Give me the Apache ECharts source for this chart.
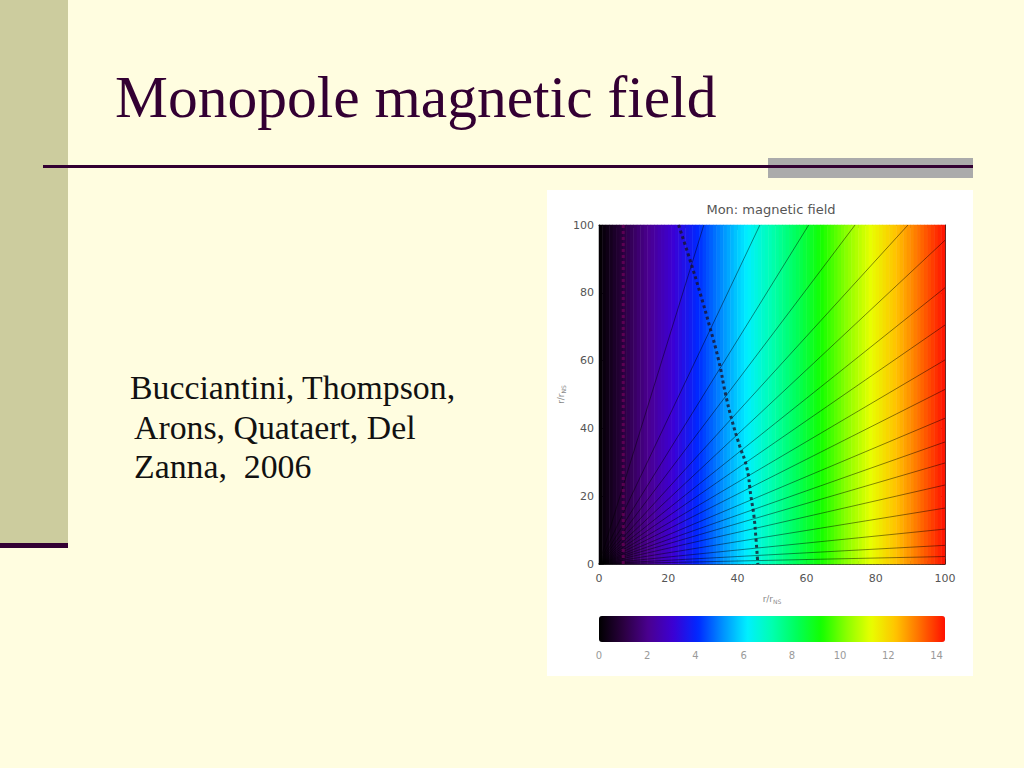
<!DOCTYPE html>
<html>
<head>
<meta charset="utf-8">
<title>Monopole magnetic field</title>
<script src="https://cdn.jsdelivr.net/npm/echarts@6/dist/echarts.min.js"></script>
<style>
  html, body { margin: 0; padding: 0; background: #FFFDE0; }
  #main { width: 1024px; height: 768px; }
</style>
</head>
<body>
<div id="main"></div>
<script>
// ---- data ----
const slideTitle = 'Monopole magnetic field';
const bodyLines = ['Bucciantini, Thompson,', 'Arons, Quataert, Del', 'Zanna,  2006'];
const chartTitle = 'Mon: magnetic field';

// field value per column (1 unit of r/r_NS wide, x = 0..100)
const colValues = [
  0.07, 0.22, 0.36, 0.50, 0.65, 0.79, 0.93, 1.08, 1.22, 1.36,
  1.51, 1.65, 1.79, 1.94, 2.08, 2.22, 2.37, 2.51, 2.65, 2.80,
  2.94, 3.09, 3.23, 3.37, 3.52, 3.66, 3.80, 3.95, 4.09, 4.23,
  4.38, 4.52, 4.66, 4.81, 4.95, 5.09, 5.24, 5.38, 5.52, 5.67,
  5.81, 5.95, 6.10, 6.24, 6.38, 6.53, 6.67, 6.82, 6.96, 7.10,
  7.25, 7.39, 7.53, 7.68, 7.82, 7.96, 8.11, 8.25, 8.39, 8.54,
  8.68, 8.82, 8.97, 9.11, 9.25, 9.40, 9.54, 9.68, 9.83, 9.97,
  10.12, 10.26, 10.40, 10.55, 10.69, 10.83, 10.98, 11.12, 11.26, 11.41,
  11.55, 11.69, 11.84, 11.98, 12.12, 12.27, 12.41, 12.55, 12.70, 12.84,
  12.98, 13.13, 13.27, 13.41, 13.56, 13.70, 13.85, 13.99, 14.13, 14.28
];
const colCategories = colValues.map((_, i) => String(i));
const rowCategories = ['all'];

// field lines: radial from the origin, ending on the plot border
const lineEndX = [30.3, 46.5, 60.6, 74, 89.3, 100, 100, 100, 100, 100, 100, 100, 100, 100, 100, 100, 100, 100];
const lineEndY = [100, 100, 100, 100, 100, 95.5, 81.5, 70.5, 60.2, 51.5, 43, 36, 29.8, 23.3, 16.5, 10.3, 5.5, 2.2];

// dotted surface curve
const surfX = [23, 26.2, 29.2, 32, 34.6, 36.6, 38.4, 40.6, 42.7, 43.9, 44.8, 45.4, 45.9];
const surfY = [100, 90, 80, 70, 60, 50, 42.5, 35, 28.5, 20, 14, 7, 0];

// dotted vertical line near the inner boundary
const innerX = [7, 7];
const innerY = [0, 100];

// axes
const axisMin = 0, axisMax = 100, axisStep = 20;
const colorbarMin = 0, colorbarMax = 14.35;
const colorbarTicks = [0, 2, 4, 6, 8, 10, 12, 14];
const rainbow = ['#000000', '#2b0040', '#4a0090', '#3c00d4', '#0028ff', '#0090ff', '#00f0ff',
                 '#00ffb0', '#00ff5a', '#14ff00', '#88ff00', '#e8ff00', '#ffc400', '#ff6c00', '#ff1000'];

// ---- chart ----
const chart = echarts.init(document.getElementById('main'), null, { renderer: 'svg' });

const serif = "'Liberation Serif', 'Times New Roman', serif";
const sans = "'DejaVu Sans', sans-serif";

const nameRich = {
  a: { fontSize: 9, color: '#8a8a8a', fontFamily: sans },
  s: { fontSize: 6, color: '#8a8a8a', fontFamily: sans, verticalAlign: 'bottom', padding: [4, 0, 0, 0] }
};

const plotGrid = { left: 599, top: 225, width: 346, height: 339 };

const fieldSeries = lineEndX.map((ex, i) => ({
  type: 'line',
  xAxisIndex: 1, yAxisIndex: 1,
  data: [[0, 0], [ex, lineEndY[i]]],
  symbol: 'none',
  silent: true,
  z: 4,
  lineStyle: { color: 'rgba(0,0,0,0.45)', width: 1 }
}));

const option = {
  backgroundColor: '#FFFDE0',
  animation: false,
  title: {
    text: chartTitle,
    left: 771, top: 203, padding: 0,
    textAlign: 'center',
    textStyle: { fontSize: 13, fontWeight: 'normal', color: '#555', fontFamily: sans }
  },
  graphic: [
    { type: 'rect', z: -5, shape: { x: 0, y: 0, width: 68, height: 543 }, style: { fill: '#CCCC9E' } },
    { type: 'rect', z: -5, shape: { x: 0, y: 543, width: 68, height: 5 }, style: { fill: '#330033' } },
    { type: 'rect', z: -5, shape: { x: 768, y: 158, width: 205, height: 20 }, style: { fill: '#ABABAB' } },
    { type: 'line', z: -4, shape: { x1: 43, y1: 166.5, x2: 973, y2: 166.5 }, style: { stroke: '#330033', lineWidth: 3 } },
    { type: 'rect', z: -5, shape: { x: 547, y: 190, width: 426, height: 486 }, style: { fill: '#FFFFFF' } },
    { type: 'text', z: -3, x: 115, y: 97, style: { text: slideTitle, font: '59.5px ' + serif, fill: '#330033', verticalAlign: 'middle' } },
    { type: 'text', z: -3, x: 130, y: 387, style: { text: bodyLines[0], font: '33.8px ' + serif, fill: '#111', verticalAlign: 'middle' } },
    { type: 'text', z: -3, x: 134, y: 427, style: { text: bodyLines[1], font: '33.8px ' + serif, fill: '#111', verticalAlign: 'middle' } },
    { type: 'text', z: -3, x: 134, y: 466, style: { text: bodyLines[2], font: '33.8px ' + serif, fill: '#111', verticalAlign: 'middle' } }
  ],
  grid: [
    Object.assign({}, plotGrid),
    Object.assign({}, plotGrid),
    { left: 599, top: 616, width: 346, height: 26 }
  ],
  xAxis: [
    { gridIndex: 0, type: 'category', data: colCategories, show: false },
    {
      gridIndex: 1, type: 'value', min: axisMin, max: axisMax, interval: axisStep, position: 'bottom',
      name: '{a|r/r}{s|NS}', nameLocation: 'middle', nameGap: 30,
      nameTextStyle: { rich: nameRich },
      axisLine: { show: true, onZero: false, lineStyle: { color: '#333', width: 1 } },
      axisTick: { show: true, inside: true, length: 5, lineStyle: { color: '#222' } },
      minorTick: { show: true, splitNumber: 4, length: 3, lineStyle: { color: '#222' } },
      splitLine: { show: false },
      axisLabel: { color: '#555', fontSize: 11, margin: 9, fontFamily: sans }
    },
    {
      gridIndex: 1, type: 'value', min: axisMin, max: axisMax, interval: axisStep, position: 'top',
      axisLine: { show: true, onZero: false, lineStyle: { color: '#333', width: 1 } },
      axisTick: { show: true, inside: true, length: 5, lineStyle: { color: '#222' } },
      minorTick: { show: true, splitNumber: 4, length: 3, lineStyle: { color: '#222' } },
      splitLine: { show: false },
      axisLabel: { show: false }
    },
    {
      gridIndex: 2, type: 'value', min: colorbarMin, max: colorbarMax, interval: 2,
      axisLine: { show: false }, axisTick: { show: false }, splitLine: { show: false },
      axisLabel: {
        color: '#9a9a9a', fontSize: 10, margin: 8, fontFamily: sans, showMaxLabel: false,
        formatter: v => (colorbarTicks.indexOf(v) >= 0 ? String(v) : '')
      }
    }
  ],
  yAxis: [
    { gridIndex: 0, type: 'category', data: rowCategories, show: false },
    {
      gridIndex: 1, type: 'value', min: axisMin, max: axisMax, interval: axisStep, position: 'left',
      name: '{a|r/r}{s|NS}', nameLocation: 'middle', nameGap: 33,
      nameTextStyle: { rich: nameRich },
      axisLine: { show: true, onZero: false, lineStyle: { color: '#333', width: 1 } },
      axisTick: { show: true, inside: true, length: 5, lineStyle: { color: '#222' } },
      minorTick: { show: true, splitNumber: 4, length: 3, lineStyle: { color: '#222' } },
      splitLine: { show: false },
      axisLabel: { color: '#555', fontSize: 11, margin: 5, fontFamily: sans }
    },
    {
      gridIndex: 1, type: 'value', min: axisMin, max: axisMax, interval: axisStep, position: 'right',
      axisLine: { show: true, onZero: false, lineStyle: { color: '#333', width: 1 } },
      axisTick: { show: true, inside: true, length: 5, lineStyle: { color: '#222' } },
      minorTick: { show: true, splitNumber: 4, length: 3, lineStyle: { color: '#222' } },
      splitLine: { show: false },
      axisLabel: { show: false }
    },
    { gridIndex: 2, type: 'value', show: false, min: 0, max: 1 }
  ],
  visualMap: {
    type: 'continuous',
    seriesIndex: 0,
    min: colorbarMin, max: colorbarMax,
    orient: 'horizontal',
    left: 599, top: 616,
    itemWidth: 26, itemHeight: 346,
    padding: 0,
    calculable: false,
    hoverLink: false,
    text: null,
    showLabel: false,
    inRange: { color: rainbow }
  },
  series: [
    {
      type: 'heatmap',
      xAxisIndex: 0, yAxisIndex: 0,
      data: colValues.map((v, i) => [i, 0, v]),
      progressive: 0,
      silent: true,
      itemStyle: { borderWidth: 0 },
      emphasis: { disabled: true },
      z: 2
    }
  ].concat(fieldSeries).concat([
    {
      type: 'line', xAxisIndex: 1, yAxisIndex: 1, z: 5, silent: true,
      data: surfX.map((x, i) => [x, surfY[i]]),
      symbol: 'none', smooth: true,
      lineStyle: { color: 'rgba(25,20,45,0.8)', width: 3, type: [3, 3] }
    },
    {
      type: 'line', xAxisIndex: 1, yAxisIndex: 1, z: 5, silent: true,
      data: innerX.map((x, i) => [x, innerY[i]]),
      symbol: 'none',
      lineStyle: { color: 'rgba(110,0,90,0.75)', width: 3, type: [3, 3] }
    }
  ])
};

chart.setOption(option);
</script>
</body>
</html>
